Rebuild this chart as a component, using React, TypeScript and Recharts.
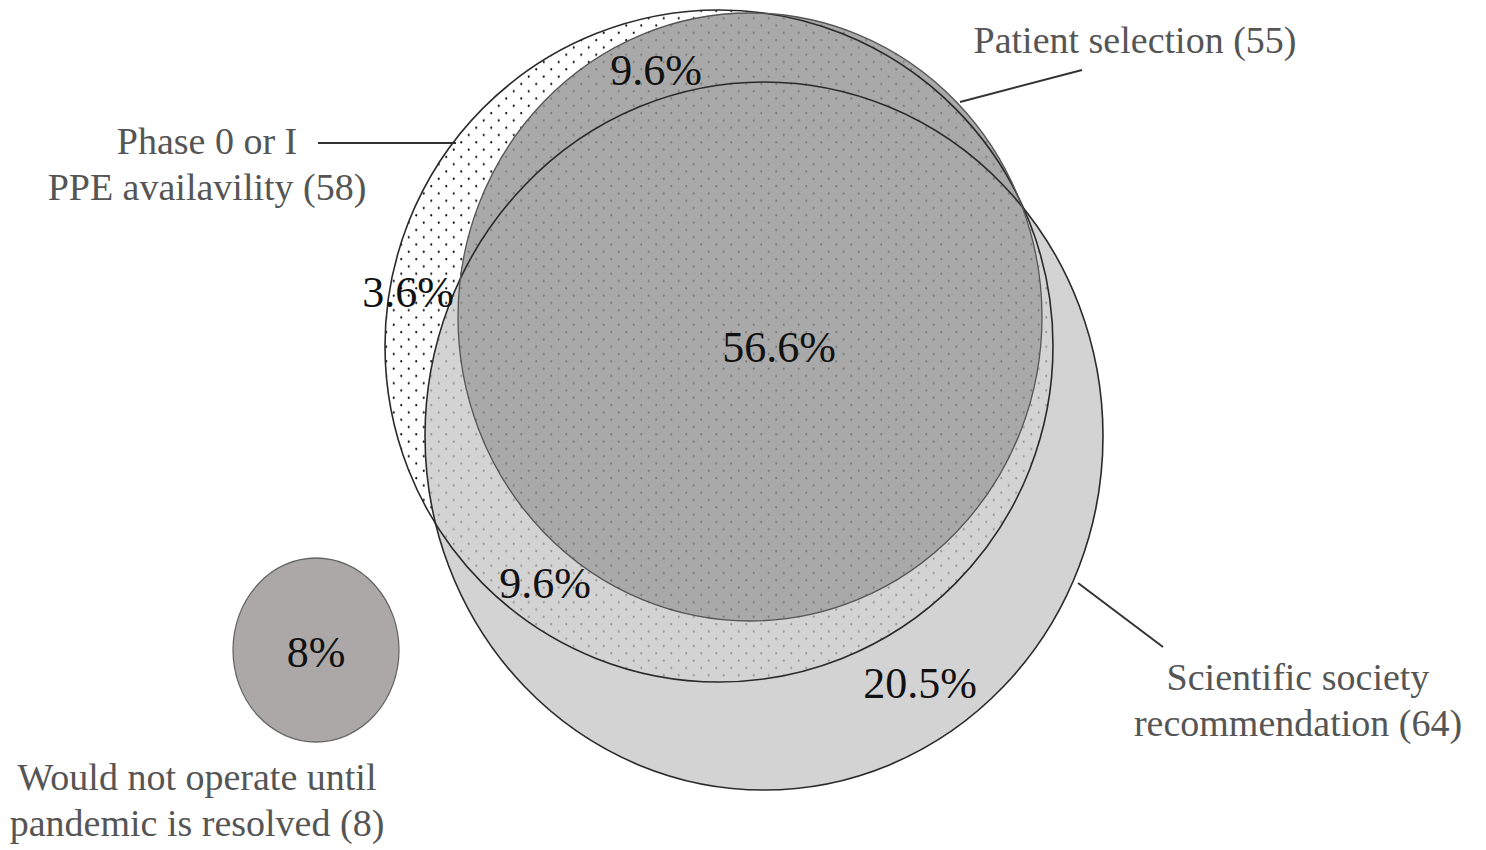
import { ScatterChart, Scatter, XAxis, YAxis, ReferenceLine } from 'recharts';

// sets and their counts
const setLabelLines = [
  ['Phase 0 or I', 'PPE availavility'],
  ['Patient selection'],
  ['Scientific society', 'recommendation'],
  ['Would not operate until', 'pandemic is resolved'],
];
const setCounts = [58, 55, 64, 8];

// share of respondents in each region of the diagram
const regionKeys = ['ppeOnly', 'ppePatient', 'allThree', 'ppeScientific', 'scientificOnly', 'wouldNot'];
const regionPcts = [3.6, 9.6, 56.6, 9.6, 20.5, 8];

const W = 1486;
const H = 850;
const sx = W / 1486;
const sy = H / 850;

// layout (chart units): circle centres / radii per set
const circleLayout = [
  { x: 719, y: 346, rx: 334, ry: 336 }, // PPE
  { x: 750, y: 317, rx: 292, ry: 304 }, // patient
  { x: 764, y: 436, rx: 339, ry: 354 }, // scientific
  { x: 316, y: 650, rx: 83, ry: 92 }, // would not operate
];
const setLabelPos = [
  { x: 207, y: 154 },
  { x: 1135, y: 53 },
  { x: 1298, y: 690 },
  { x: 197, y: 790 },
];
const regionLabelPos = [
  { x: 408, y: 307 },
  { x: 656, y: 85 },
  { x: 779, y: 362 },
  { x: 545, y: 598 },
  { x: 920, y: 698 },
  { x: 316, y: 667 },
];
const leaders = [
  [{ x: 318, y: 143 }, { x: 456, y: 143 }],
  [{ x: 1082, y: 70 }, { x: 960, y: 102 }],
  [{ x: 1078, y: 583 }, { x: 1163, y: 647 }],
];

const fills = [
  { ...circleLayout[0], kind: 'dots' },
  { ...circleLayout[2], kind: 'light' },
  { ...circleLayout[1], kind: 'dark' },
  { ...circleLayout[1], kind: 'softDots' },
  { ...circleLayout[3], kind: 'solo' },
];
const outlines = [
  { ...circleLayout[2], stroke: '#2a2a2a', w: 1.6 },
  { ...circleLayout[0], stroke: '#2a2a2a', w: 1.6 },
  { ...circleLayout[1], stroke: '#555', w: 1.3 },
  { ...circleLayout[3], stroke: '#666', w: 1.3 },
];
const setTexts = setLabelLines.map((lines, i) => ({
  ...setLabelPos[i],
  lines: lines.map((l, j) => (j === lines.length - 1 ? `${l} (${setCounts[i]})` : l)),
}));
const regionTexts = regionKeys.map((k, i) => ({ ...regionLabelPos[i], key: k, text: `${regionPcts[i]}%` }));

const fillStyle: Record<string, { fill: string; opacity: number }> = {
  dots: { fill: 'url(#dots)', opacity: 1 },
  light: { fill: '#c4c4c4', opacity: 0.75 },
  dark: { fill: '#a9a9a9', opacity: 1 },
  softDots: { fill: 'url(#softDots)', opacity: 1 },
  solo: { fill: '#aca8a8', opacity: 1 },
};

function DotPattern({ id, color }: { id: string; color: string }) {
  return (
    <pattern id={id} patternUnits="userSpaceOnUse" width={15} height={14.6}>
      <circle cx={3.75} cy={3.65} r={1.1} fill={color} />
      <circle cx={11.25} cy={10.95} r={1.1} fill={color} />
    </pattern>
  );
}

function FillShape(props: any) {
  const { cx, cy, payload } = props;
  const st = fillStyle[payload.kind];
  return (
    <g>
      {payload.kind === 'dots' && (
        <defs>
          <DotPattern id="dots" color="#111" />
          <DotPattern id="softDots" color="#7c7c7c" />
        </defs>
      )}
      <ellipse cx={cx} cy={cy} rx={payload.rx * sx} ry={payload.ry * sy} fill={st.fill} fillOpacity={st.opacity} />
    </g>
  );
}

function OutlineShape(props: any) {
  const { cx, cy, payload } = props;
  return (
    <ellipse
      cx={cx}
      cy={cy}
      rx={payload.rx * sx}
      ry={payload.ry * sy}
      fill="none"
      stroke={payload.stroke}
      strokeWidth={payload.w}
    />
  );
}

function SetText(props: any) {
  const { cx, cy, payload } = props;
  return (
    <text x={cx} y={cy} textAnchor="middle" fontFamily="'Liberation Serif', serif" fontSize={38} fill="#555">
      {payload.lines.map((l: string, i: number) => (
        <tspan key={i} x={cx} dy={i === 0 ? 0 : 46}>
          {l}
        </tspan>
      ))}
    </text>
  );
}

function RegionText(props: any) {
  const { cx, cy, payload } = props;
  return (
    <text x={cx} y={cy} textAnchor="middle" fontFamily="'Liberation Serif', serif" fontSize={44} fill="#111">
      {payload.text}
    </text>
  );
}

export default function App() {
  return (
    <div style={{ position: 'absolute', left: 0, top: 0, width: W, height: H, background: '#fff' }}>
      <ScatterChart width={W} height={H} margin={{ top: 0, right: 0, bottom: 0, left: 0 }}>
        <XAxis type="number" dataKey="x" domain={[0, 1486]} hide />
        <YAxis type="number" dataKey="y" domain={[0, 850]} reversed hide />
        <Scatter data={fills} shape={FillShape} isAnimationActive={false} />
        <Scatter data={outlines} shape={OutlineShape} isAnimationActive={false} />
        {leaders.map((seg, i) => (
          <ReferenceLine key={i} segment={seg} stroke="#333" strokeWidth={2} />
        ))}
        <Scatter data={setTexts} shape={SetText} isAnimationActive={false} />
        <Scatter data={regionTexts} shape={RegionText} isAnimationActive={false} />
      </ScatterChart>
    </div>
  );
}
